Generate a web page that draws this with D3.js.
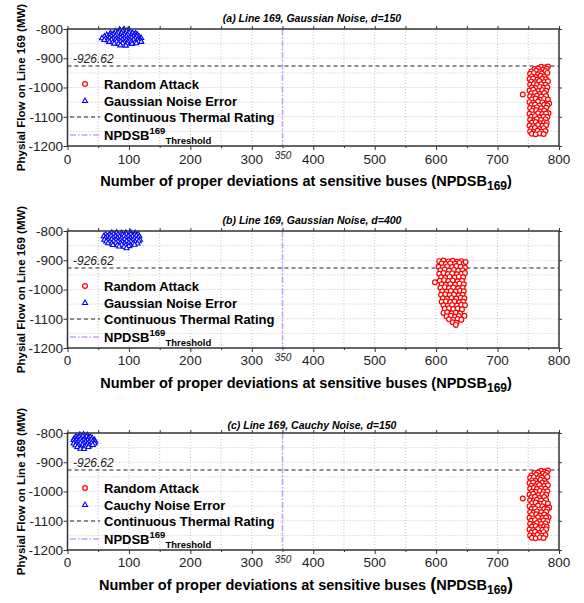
<!DOCTYPE html>
<html>
<head>
<meta charset="utf-8">
<script src="https://cdn.jsdelivr.net/npm/d3@7"></script>
<style>
  body { margin: 0; background: #fff; }
  text { font-family: "Liberation Sans", Arial, sans-serif; }
</style>
</head>
<body>
<script>
// values
const panelTitles = [
  "(a) Line 169, Gaussian Noise, d=150",
  "(b) Line 169, Gaussian Noise, d=400",
  "(c) Line 169, Cauchy Noise, d=150"
];
const noiseLabels = ["Gaussian Noise Error", "Gaussian Noise Error", "Cauchy Noise Error"];
const thermalRating = -926.62;
const npdsbThreshold = 350;
const xTicks = [0, 100, 200, 300, 400, 500, 600, 700, 800];
const yTicks = [-800, -900, -1000, -1100, -1200];

// random attack, d=150 (same cloud in (a) and (c))
const attackD150 = [
  [771,-929],[777,-932],[782,-928],
  [760,-937],[766,-935],[774,-939],[780,-936],
  [755,-945],[763,-943],[769,-947],[778,-944],
  [753,-953],[759,-951],[766,-955],[772,-952],[781,-950],
  [756,-962],[762,-964],[770,-960],[776,-963],
  [752,-971],[758,-969],[765,-973],[773,-970],[779,-972],
  [755,-980],[761,-982],[768,-978],[776,-981],[782,-979],
  [753,-990],[759,-988],[764,-992],[771,-989],[778,-991],
  [756,-1000],[762,-1002],[769,-998],[775,-1001],[781,-999],
  [752,-1010],[758,-1008],[766,-1012],[773,-1009],[779,-1011],
  [741,-1024],[755,-1020],[761,-1018],[768,-1022],[776,-1019],
  [753,-1030],[759,-1032],[764,-1028],[771,-1031],[779,-1029],
  [756,-1040],[762,-1038],[770,-1042],[776,-1039],[782,-1041],
  [752,-1050],[758,-1052],[766,-1048],[773,-1051],[784,-1055],
  [755,-1060],[761,-1058],[768,-1062],[776,-1059],[781,-1061],
  [753,-1070],[759,-1072],[764,-1068],[771,-1071],[779,-1069],
  [756,-1080],[763,-1078],[769,-1082],[776,-1079],[783,-1088],
  [752,-1090],[758,-1092],[766,-1088],[773,-1091],[779,-1089],
  [755,-1100],[761,-1098],[768,-1102],[775,-1099],[781,-1101],
  [753,-1110],[760,-1112],[764,-1108],[771,-1111],[778,-1109],
  [756,-1120],[762,-1118],[769,-1122],[776,-1119],[780,-1121],
  [752,-1130],[758,-1132],[766,-1128],[773,-1131],[779,-1129],
  [755,-1140],[761,-1138],[768,-1142],[775,-1139],
  [753,-1150],[759,-1152],[765,-1148],[772,-1151],[778,-1149],
  [756,-1158],[762,-1160],[769,-1157],[775,-1159]
];

// random attack, d=400
const attackD400 = [
  [605,-903],[612,-901],[620,-904],[627,-902],[634,-905],[641,-903],
  [609,-911],[616,-913],[623,-910],[631,-912],[638,-909],[645,-911],[648,-906],
  [604,-922],[611,-924],[618,-921],[626,-923],[633,-920],[640,-922],[647,-925],
  [607,-934],[614,-932],[621,-935],[629,-933],[636,-936],[643,-934],
  [605,-946],[612,-944],[619,-947],[626,-945],[634,-948],[641,-946],[647,-944],
  [608,-958],[615,-960],[622,-957],[630,-959],[637,-956],[644,-958],
  [606,-970],[613,-968],[620,-971],[627,-969],[635,-972],[642,-970],
  [598,-975],
  [609,-982],[616,-984],[623,-981],[631,-983],[638,-980],[645,-982],
  [607,-994],[614,-992],[621,-995],[628,-993],[636,-996],[643,-994],
  [610,-1006],[617,-1008],[624,-1005],[632,-1007],[639,-1004],[645,-1006],
  [608,-1018],[615,-1016],[622,-1019],[629,-1017],[637,-1020],[643,-1018],
  [611,-1030],[618,-1032],[625,-1029],[633,-1031],[640,-1028],[646,-1030],
  [609,-1042],[616,-1040],[623,-1043],[630,-1041],[638,-1044],[644,-1042],
  [612,-1054],[619,-1056],[626,-1053],[634,-1055],[641,-1052],[647,-1054],
  [614,-1066],[621,-1064],[628,-1067],[635,-1065],[642,-1068],
  [612,-1080],[618,-1078],[625,-1081],[632,-1079],[639,-1082],[646,-1090],
  [617,-1092],[624,-1090],[631,-1093],[637,-1091],
  [621,-1102],[628,-1104],[635,-1101],[641,-1103],
  [627,-1112],[633,-1114],
  [632,-1121]
];

// gaussian noise error, d=150
const gaussD150 = [
  [85,-802],[92,-801],[99,-803],
  [78,-808],[84,-809],[90,-807],[96,-808],[102,-809],
  [70,-814],[76,-815],[82,-813],[88,-814],[94,-815],[100,-813],[106,-814],[111,-815],
  [64,-820],[69,-821],[74,-819],[80,-820],[86,-821],[92,-819],[98,-820],[104,-821],[109,-819],[114,-820],
  [60,-826],[66,-827],[72,-825],[78,-826],[84,-827],[90,-825],[96,-826],[102,-827],[108,-825],[113,-826],[117,-827],
  [56,-832],[62,-833],[68,-831],[74,-832],[80,-833],[86,-831],[92,-832],[98,-833],[104,-831],[110,-832],[116,-833],[120,-831],
  [60,-838],[66,-839],[72,-837],[78,-838],[84,-839],[90,-837],[96,-838],[102,-839],[108,-837],[114,-838],[119,-839],
  [68,-844],[74,-845],[80,-843],[86,-844],[92,-845],[98,-843],[104,-844],[110,-845],[116,-843],[120,-844],
  [76,-850],[83,-851],[90,-849],[97,-850],[105,-851],[112,-849],
  [86,-856],[95,-857]
];

// gaussian noise error, d=400
const gaussD400 = [
  [72,-806],[80,-805],[88,-807],[95,-806],[103,-805],[110,-807],
  [62,-812],[68,-813],[75,-811],[82,-812],[89,-813],[96,-811],[103,-812],[109,-813],[115,-811],
  [59,-818],[65,-819],[71,-817],[78,-818],[85,-819],[92,-817],[99,-818],[106,-819],[112,-817],[117,-818],
  [62,-824],[68,-825],[74,-823],[81,-824],[88,-825],[95,-823],[102,-824],[109,-825],[115,-823],
  [60,-830],[66,-831],[72,-829],[79,-830],[86,-831],[93,-829],[100,-830],[107,-831],[113,-829],[118,-830],
  [63,-836],[69,-837],[75,-835],[82,-836],[89,-837],[96,-835],[103,-836],[110,-837],[116,-835],
  [66,-842],[72,-843],[79,-841],[86,-842],[93,-843],[100,-841],[107,-842],[114,-843],
  [74,-848],[81,-849],[88,-847],[95,-848],[102,-849],[109,-847],
  [84,-853],[92,-854],[100,-852],
  [96,-859]
];

// cauchy noise error, d=150
const cauchyD150 = [
  [20,-806],[26,-805],[32,-807],
  [14,-812],[19,-813],[25,-811],[31,-812],[37,-813],
  [11,-818],[16,-819],[22,-817],[28,-818],[34,-819],[40,-817],
  [10,-824],[15,-825],[21,-823],[27,-824],[33,-825],[39,-823],[44,-824],
  [12,-830],[17,-831],[23,-829],[29,-830],[35,-831],[41,-829],[45,-830],
  [10,-836],[15,-837],[21,-835],[27,-836],[33,-837],[39,-835],[44,-836],
  [13,-842],[18,-843],[24,-841],[30,-842],[36,-843],[41,-841],
  [16,-848],[22,-849],[28,-847],[34,-848],
  [21,-854],[27,-855]
];

const attackSets = [attackD150, attackD400, attackD150];
const noiseSets = [gaussD150, gaussD400, cauchyD150];

const width = 584, height = 603;
const plotLeft = 67.5, plotRight = 559, plotH = 117;
const panelTops = [29, 231, 433];
const titleDy = [-10.5, -11, -7.5];
const tickDy = [18, 17, 16.5];

const svg = d3.select('body').append('svg')
    .attr('width', width).attr('height', height);

const x = d3.scaleLinear().domain([0, 800]).range([plotLeft, plotRight]);
const y = d3.scaleLinear().domain([-1200, -800]).range([plotH, 0]);

panelTitles.forEach((t, i) => drawPanel(i));

function drawPanel(i) {
  const g = svg.append('g').attr('transform', `translate(0,${panelTops[i]})`);

  // dotted grid
  g.append('g').selectAll('line')
      .data(d3.range(50, 800, 50))
      .join('line')
      .attr('x1', d => x(d)).attr('x2', d => x(d))
      .attr('y1', 0).attr('y2', plotH)
      .attr('stroke', '#b8b8b8').attr('stroke-width', 0.8)
      .attr('stroke-dasharray', '1,2');
  g.append('g').selectAll('line')
      .data(d3.range(-1150, -800, 50))
      .join('line')
      .attr('x1', plotLeft).attr('x2', plotRight)
      .attr('y1', d => y(d)).attr('y2', d => y(d))
      .attr('stroke', '#b8b8b8').attr('stroke-width', 0.8)
      .attr('stroke-dasharray', '1,2');

  // threshold + thermal rating
  g.append('line')
      .attr('x1', x(npdsbThreshold)).attr('x2', x(npdsbThreshold))
      .attr('y1', 0).attr('y2', plotH)
      .attr('stroke', '#c9a3f2').attr('stroke-width', 1.6)
      .attr('stroke-dasharray', '6,2,1.5,2');
  g.append('line')
      .attr('x1', plotLeft).attr('x2', plotRight)
      .attr('y1', y(thermalRating)).attr('y2', y(thermalRating))
      .attr('stroke', '#222').attr('stroke-width', 1.1)
      .attr('stroke-dasharray', '4,3');
  g.append('text')
      .attr('x', 73).attr('y', y(thermalRating) - 3.5)
      .attr('font-size', 12).attr('font-style', 'italic').attr('fill', '#222')
      .text(thermalRating.toFixed(2));
  g.append('text')
      .attr('x', x(npdsbThreshold) + 0.5).attr('y', plotH + 12.5)
      .attr('text-anchor', 'middle')
      .attr('font-size', 10).attr('font-style', 'italic').attr('fill', '#222')
      .text(npdsbThreshold);

  // points
  g.append('g').selectAll('circle')
      .data(attackSets[i])
      .join('circle')
      .attr('cx', d => x(d[0])).attr('cy', d => y(d[1]))
      .attr('r', 2.4)
      .attr('fill', '#fff').attr('stroke', '#ff0000').attr('stroke-width', 1.2);
  const tri = d3.symbol().type(d3.symbolTriangle).size(11);
  g.append('g').selectAll('path')
      .data(noiseSets[i])
      .join('path')
      .attr('d', tri)
      .attr('transform', d => `translate(${x(d[0])},${y(d[1])})`)
      .attr('fill', '#fff').attr('stroke', '#0000ff').attr('stroke-width', 1.1);

  // axes
  g.append('g').attr('transform', `translate(0,${plotH})`)
      .call(d3.axisBottom(x).tickValues(xTicks).tickSize(4).tickFormat(''));
  g.append('g').attr('transform', `translate(0,${plotH})`)
      .call(d3.axisBottom(x).tickValues(d3.range(50, 800, 100)).tickSize(2).tickFormat(''));
  g.append('g')
      .call(d3.axisTop(x).tickValues(d3.range(0, 801, 50)).tickSize(3).tickFormat(''));
  g.append('g').attr('transform', `translate(${plotLeft},0)`)
      .call(d3.axisLeft(y).tickValues(yTicks).tickSize(4).tickFormat(''));
  g.append('g').attr('transform', `translate(${plotRight},0)`)
      .call(d3.axisRight(y).tickValues(yTicks).tickSize(3).tickFormat(''));
  g.selectAll('.domain').remove();
  g.selectAll('.tick line').attr('stroke', '#333').attr('stroke-width', 1);

  g.append('g').selectAll('text')
      .data(xTicks)
      .join('text')
      .attr('x', d => x(d)).attr('y', plotH + tickDy[i])
      .attr('text-anchor', 'middle').attr('font-size', 13.5).attr('fill', '#222')
      .text(d => d);
  g.append('g').selectAll('text')
      .data(yTicks)
      .join('text')
      .attr('x', plotLeft - 4.5).attr('y', d => y(d) + 4.8)
      .attr('text-anchor', 'end').attr('font-size', 13.5).attr('fill', '#222')
      .text(d => d);

  // frame
  g.append('rect')
      .attr('x', plotLeft).attr('y', 0)
      .attr('width', plotRight - plotLeft).attr('height', plotH)
      .attr('fill', 'none').attr('stroke', '#333').attr('stroke-width', 1.5);

  // titles
  g.append('text')
      .attr('x', 312).attr('y', titleDy[i] + 3.5)
      .attr('text-anchor', 'middle')
      .attr('font-size', 10.5).attr('font-weight', 'bold').attr('font-style', 'italic')
      .text(panelTitles[i]);
  g.append('text')
      .attr('transform', `translate(25,${plotH / 2}) rotate(-90)`)
      .attr('text-anchor', 'middle')
      .attr('font-size', 11.5).attr('font-weight', 'bold')
      .text('Physial Flow on Line 169 (MW)');
  const xt = g.append('text')
      .attr('x', 306).attr('y', plotH + 40)
      .attr('text-anchor', 'middle')
      .attr('font-size', 14.5).attr('font-weight', 'bold');
  xt.append('tspan').text('Number of proper deviations at sensitive buses ');
  xt.append('tspan').attr('font-size', i === 2 ? 18 : 14.5).text('(');
  xt.append('tspan').text('NPDSB');
  xt.append('tspan').attr('dy', 4).attr('font-size', 12).text('169');
  xt.append('tspan').attr('dy', -4).attr('font-size', i === 2 ? 18 : 14.5).text(')');

  // legend
  const rows = [55, 72, 88, 106];
  const lg = g.append('g');
  lg.append('circle').attr('cx', 85).attr('cy', rows[0]).attr('r', 2.4)
      .attr('fill', '#fff').attr('stroke', '#ff0000').attr('stroke-width', 1.2);
  lg.append('path').attr('d', tri)
      .attr('transform', `translate(85,${rows[1]})`)
      .attr('fill', '#fff').attr('stroke', '#0000ff').attr('stroke-width', 1.1);
  lg.append('line').attr('x1', 70).attr('x2', 100)
      .attr('y1', rows[2]).attr('y2', rows[2])
      .attr('stroke', '#222').attr('stroke-width', 1.1).attr('stroke-dasharray', '4,3');
  lg.append('line').attr('x1', 70).attr('x2', 100)
      .attr('y1', rows[3]).attr('y2', rows[3])
      .attr('stroke', '#c9a3f2').attr('stroke-width', 1.6).attr('stroke-dasharray', '6,2,1.5,2');
  const labels = ['Random Attack', noiseLabels[i], 'Continuous Thermal Rating'];
  labels.forEach((l, k) => {
    lg.append('text').attr('x', 104).attr('y', rows[k] + 4.7)
        .attr('font-size', 13).attr('font-weight', 'bold').text(l);
  });
  const th = lg.append('text').attr('x', 104).attr('y', rows[3] + 4.7)
      .attr('font-size', 13).attr('font-weight', 'bold');
  th.append('tspan').text('NPDSB');
  th.append('tspan').attr('dy', -6).attr('font-size', 9.5).text('169');
  th.append('tspan').attr('dy', 10.5).attr('font-size', 9.5).text('Threshold');
}
</script>
</body>
</html>
